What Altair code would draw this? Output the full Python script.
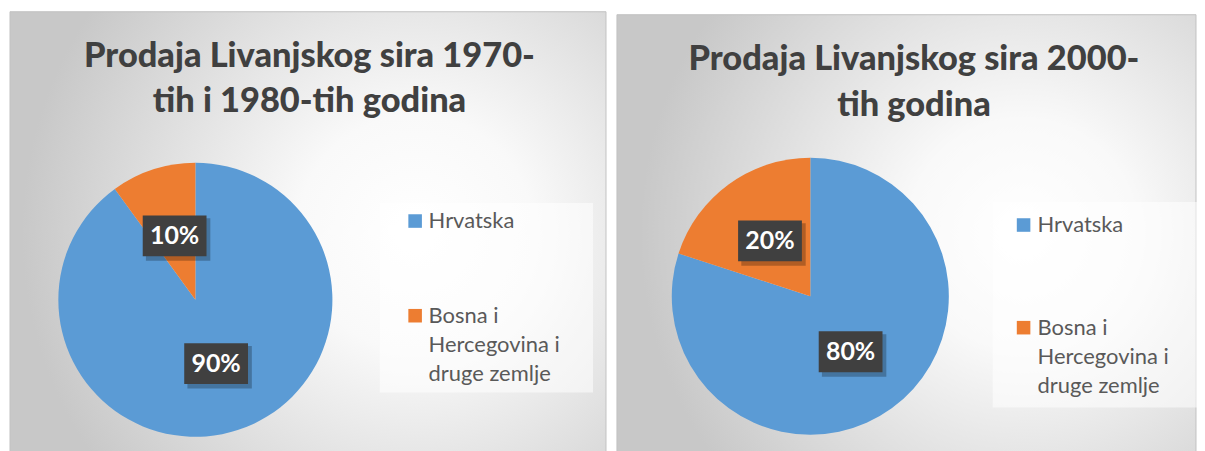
import altair as alt
import pandas as pd

# ---- data ----
categories = ["Hrvatska", "Bosna i Hercegovina i druge zemlje"]
legend_lines = [["Hrvatska"], ["Bosna i", "Hercegovina i", "druge zemlje"]]
slice_order = [0, 1]
share_1970_80 = [90, 10]
share_2000 = [80, 20]
title_1970_80 = ["Prodaja Livanjskog sira 1970-", "tih i 1980-tih godina"]
title_2000 = ["Prodaja Livanjskog sira 2000-", "tih godina"]
colors = ["#5B9BD5", "#ED7D31"]

FONT = "Lato"


def panel(values, title_lines, g):
    df = pd.DataFrame({
        "category": categories,
        "share": values,
        "order": slice_order,
        "legend": legend_lines,
    })
    one = alt.Chart(pd.DataFrame({"k": [0]}))
    base = alt.Chart(df)
    color = alt.Color("category:N", scale=alt.Scale(domain=categories, range=colors), legend=None)

    bg = one.mark_rect(
        fill=alt.Gradient(
            gradient="radial",
            stops=[
                alt.GradientStop(offset=0, color="#ffffff"),
                alt.GradientStop(offset=0.3, color="#f9f9f9"),
                alt.GradientStop(offset=1, color="#c8c8c8"),
            ],
            x1=g["gx"], y1=g["gy"], r1=0, x2=g["gx"], y2=g["gy"], r2=0.66,
        ),
        stroke="#c2c2c2", strokeWidth=1,
    ).encode(x=alt.value(0), x2=alt.value(g["W"]), y=alt.value(g["top"]), y2=alt.value(g["H"] + 2))

    title = one.mark_text(
        text=title_lines, font=FONT, fontSize=34.5, fontWeight=900, color="#404040",
        align="center", baseline="alphabetic", lineHeight=g["tlh"],
    ).encode(x=alt.value(g["tx"]), y=alt.value(g["ty"]))

    pie = base.mark_arc(radius=g["R"]).encode(
        theta=alt.Theta("share:Q", stack=True),
        color=color,
        order=alt.Order("order:Q"),
        x=alt.value(g["cx"]),
        y=alt.value(g["cy"]),
    )

    lab = base.transform_joinaggregate(total="sum(share)").transform_window(
        cum="sum(share)", sort=[alt.SortField("order")], frame=[None, 0]
    ).transform_calculate(
        mid="2*PI*(datum.cum - datum.share/2)/datum.total",
        lx=f"sin(datum.mid)*{g['f']}",
        ly=f"-cos(datum.mid)*{g['f']}",
        pct="format(datum.share/datum.total, '.0%')",
    )
    R = g["R"]
    xs = alt.X("lx:Q", scale=alt.Scale(domain=[-1, 1], range=[g["cx"] - R, g["cx"] + R], nice=False, zero=False), axis=None)
    ys = alt.Y("ly:Q", scale=alt.Scale(domain=[-1, 1], range=[g["cy"] - R, g["cy"] + R], nice=False, zero=False), axis=None)

    shadow = lab.mark_point(
        shape="M-0.9,-0.55H1.12V0.78H-0.9Z", size=4096, filled=True, color="#000000", opacity=0.25,
    ).encode(x=xs, y=ys)
    box = lab.mark_point(
        shape="M-1,-0.64H1V0.64H-1Z", size=4096, filled=True, color="#404040", opacity=1,
    ).encode(x=xs, y=ys)
    txt = lab.mark_text(
        font=FONT, fontSize=25, fontWeight="bold", color="#ffffff", align="center", baseline="middle",
    ).encode(x=xs, y=ys, text="pct:N")

    lbox = one.mark_rect(fill="#ffffff", opacity=0.55).encode(
        x=alt.value(g["bx"][0]), x2=alt.value(g["bx"][1]),
        y=alt.value(g["by"][0]), y2=alt.value(g["by"][1]),
    )
    ly_enc = alt.Y("category:N", scale=alt.Scale(domain=categories, range=g["sy"], padding=0), axis=None)
    lsym = base.mark_square(size=185, opacity=1).encode(
        x=alt.value(g["sx"]), y=ly_enc, color=color,
    )
    ltxt = base.mark_text(
        font=FONT, fontSize=22, color="#595959", align="left", baseline="alphabetic",
        dy=7, lineHeight=29.5,
    ).encode(x=alt.value(g["lx"]), y=ly_enc, text="legend:N")

    return alt.layer(bg, title, pie, shadow, box, txt, lbox, lsym, ltxt).resolve_scale(
        x="independent", y="independent"
    ).properties(width=g["W"], height=g["H"])


left_geo = dict(W=598, H=441, top=0, cx=186, cy=289, R=137.5, f=0.49, gx=0.68, gy=0.5,
                tx=300.5, ty=55, tlh=46, bx=(371, 585), by=(192, 382), sx=406.5, sy=[210, 305], lx=420)
right_geo = dict(W=581, H=441, top=3, cx=194, cy=285.5, R=139, f=0.495, gx=0.7, gy=0.5,
                 tx=298, ty=58, tlh=47, bx=(377, 582), by=(191, 397), sx=408, sy=[214, 317], lx=422)

chart = alt.hconcat(
    panel(share_1970_80, title_1970_80, left_geo),
    panel(share_2000, title_2000, right_geo),
    spacing=9,
).configure(
    padding={"left": 1, "top": 2, "right": 0, "bottom": 0},
    background="#ffffff",
).configure_view(stroke=None)

chart.save("out.html", embed_options={"renderer": "svg", "actions": False})
